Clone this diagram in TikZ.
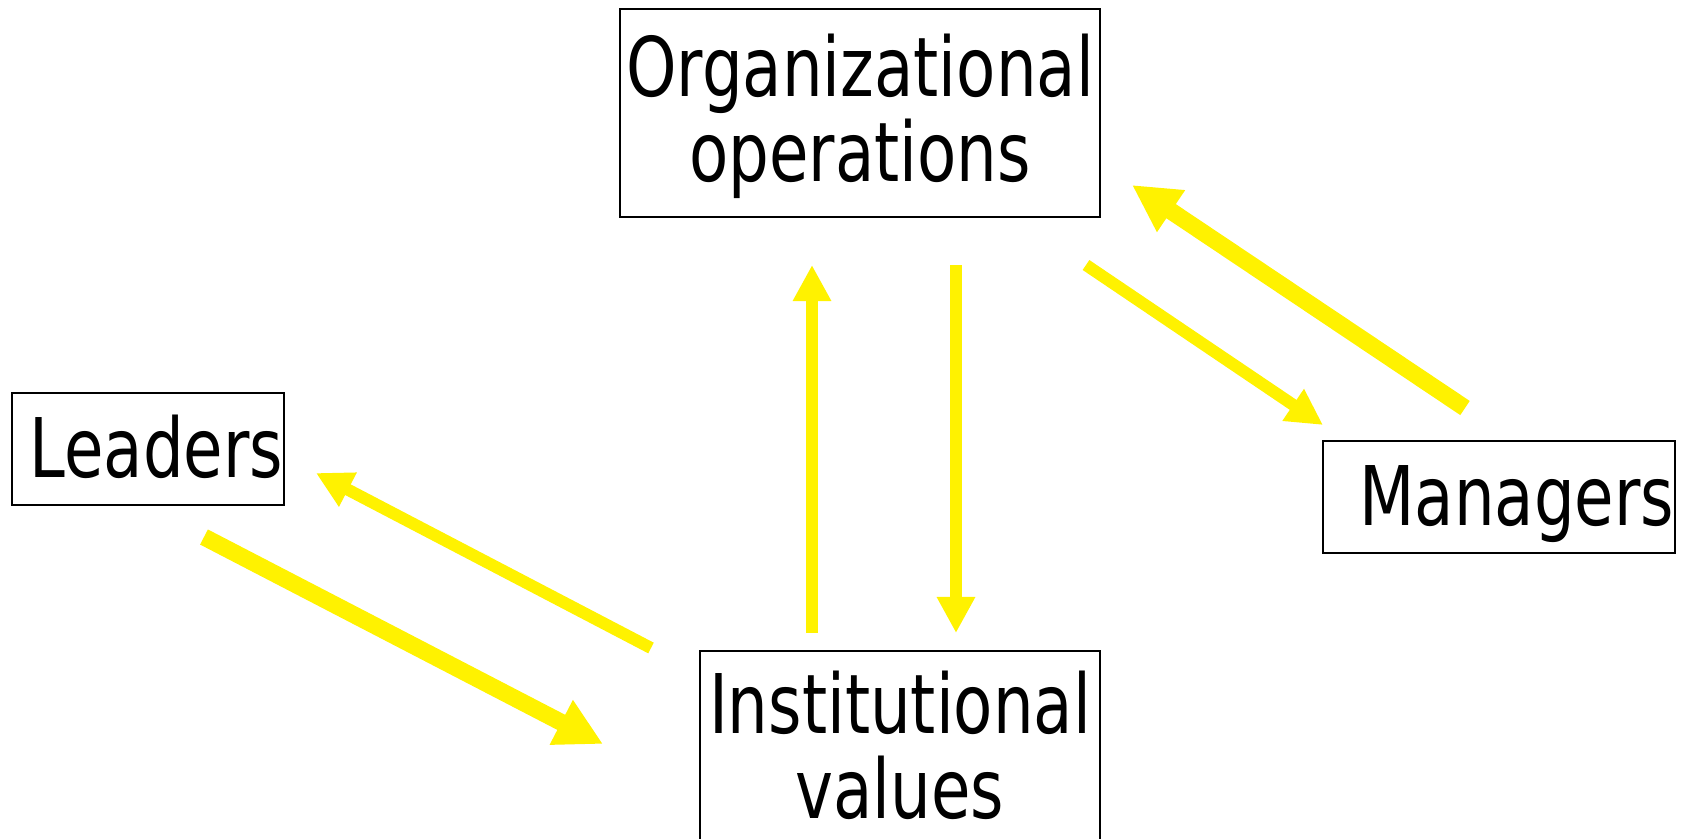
\documentclass[tikz,border=0pt]{standalone}
\usepackage{fontspec}
\setmainfont{DejaVu Sans}[FakeStretch=0.78]
\usetikzlibrary{arrows.meta}

\begin{document}
\begin{tikzpicture}[x=0.01cm, y=-0.01cm]

\tikzset{box/.style = {draw, line width=0.02cm, align=center, inner xsep=0.05cm, font=\fontsize{23.4pt}{24.2pt}\selectfont}}
\tikzset{single/.style = {box, align=right, inner xsep=0.01cm, text height=0.57cm, text depth=0pt, minimum height=1.12cm}}
\tikzset{flow/.style = {-{Triangle[length=0.36cm, width=0.36cm]}, line width=0.12cm, yellow}}
\tikzset{bigflow/.style = {-{Triangle[length=0.47cm, width=0.47cm]}, line width=0.17cm, yellow}}

\useasboundingbox (0,0) rectangle (1687,839);

%boxes
\node[box, minimum width=4.8cm, minimum height=2.08cm, text depth=0.1cm] (org) at (860,113) {Organizational\\operations};
\node[box, anchor=north, minimum width=4.0cm, inner ysep=0.2cm, text depth=1cm] (ival) at (900,650) {Institutional\\values};
\node[single, text width=2.70cm] (lead) at (148,449) {Leaders};
\node[single, text width=3.50cm] (man) at (1499,497) {Managers};

%arrow ends
\coordinate (ival-up) at (812,633);
\coordinate (org-up) at (812,265);
\coordinate (org-down) at (956,265);
\coordinate (ival-down) at (956,633);
\coordinate (org-out) at (1086,265);
\coordinate (man-in) at (1323,425);
\coordinate (man-out) at (1465,408);
\coordinate (org-in) at (1132,185);
\coordinate (ival-out) at (651,648);
\coordinate (lead-in) at (316,473);
\coordinate (lead-out) at (204,537);
\coordinate (ival-in) at (603,744);

%arrows
\draw[flow] (ival-up) -- (org-up);
\draw[flow] (org-down) -- (ival-down);
\draw[flow] (org-out) -- (man-in);
\draw[bigflow] (man-out) -- (org-in);
\draw[flow] (ival-out) -- (lead-in);
\draw[bigflow] (lead-out) -- (ival-in);

\end{tikzpicture}
\end{document}
